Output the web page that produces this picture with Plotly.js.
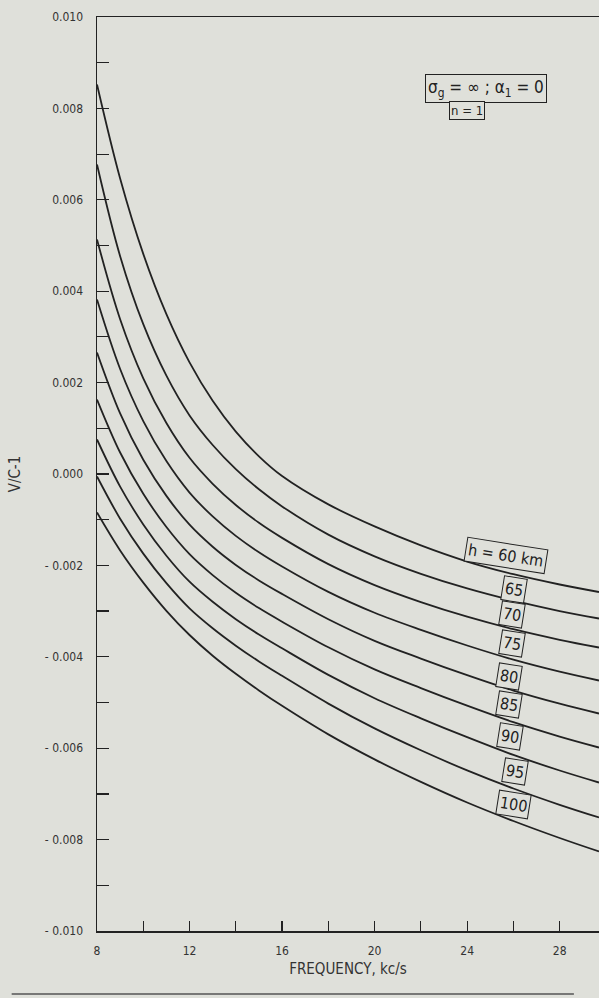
<!DOCTYPE html>
<html>
<head>
<meta charset="utf-8">
<script src="https://cdn.plot.ly/plotly-3.0.1.min.js"></script>
<style>
html,body{margin:0;padding:0;background:#dfe0da;}
#chart{width:599px;height:998px;}
</style>
</head>
<body>
<div id="chart"></div>
<script>
// Frequency (kc/s) sample points
const freq = [8, 9, 10, 11, 12, 13, 14, 15, 16, 18, 20, 22, 24, 26, 28, 29.7];
// Height labels (km)
const heights = ['60', '65', '70', '75', '80', '85', '90', '95', '100'];
// V/C-1 values, one series per height
const h60  = [0.008523, 0.006466, 0.004816, 0.003499, 0.002444, 0.001602, 0.000928, 0.000387, -0.000044, -0.000665, -0.001147, -0.001562, -0.001915, -0.002193, -0.002418, -0.002582];
const h65  = [0.006772, 0.004766, 0.003278, 0.002151, 0.001282, 0.000635, 0.000107, -0.000335, -0.000709, -0.001326, -0.001801, -0.002184, -0.002505, -0.002772, -0.002998, -0.003162];
const h70  = [0.005131, 0.003387, 0.002094, 0.001116, 0.000354, -0.000214, -0.000678, -0.001068, -0.001398, -0.001972, -0.002431, -0.002803, -0.003123, -0.003396, -0.003628, -0.003797];
const h75  = [0.003818, 0.002298, 0.001158, 0.000282, -0.000407, -0.000928, -0.001354, -0.001713, -0.002024, -0.002580, -0.003037, -0.003411, -0.003753, -0.004063, -0.004326, -0.004519];
const h80  = [0.002659, 0.001326, 0.000311, -0.000479, -0.001109, -0.001591, -0.001989, -0.002328, -0.002624, -0.003177, -0.003650, -0.004039, -0.004403, -0.004740, -0.005026, -0.005241];
const h85  = [0.001630, 0.000470, -0.000433, -0.001160, -0.001753, -0.002212, -0.002600, -0.002934, -0.003232, -0.003792, -0.004276, -0.004685, -0.005070, -0.005431, -0.005746, -0.005985];
const h90  = [0.000755, -0.000276, -0.001103, -0.001788, -0.002357, -0.002797, -0.003177, -0.003512, -0.003814, -0.004396, -0.004906, -0.005346, -0.005759, -0.006147, -0.006488, -0.006751];
const h95  = [-0.000055, -0.000978, -0.001742, -0.002389, -0.002941, -0.003376, -0.003757, -0.004101, -0.004416, -0.005024, -0.005567, -0.006046, -0.006486, -0.006882, -0.007239, -0.007516];
const h100 = [-0.000842, -0.001672, -0.002376, -0.002993, -0.003523, -0.003976, -0.004372, -0.004735, -0.005072, -0.005698, -0.006245, -0.006737, -0.007188, -0.007593, -0.007965, -0.008260];
const series = [h60, h65, h70, h75, h80, h85, h90, h95, h100];

// Axis ticks
const xTickVals = [8, 12, 16, 20, 24, 28];
const xTickText = ['8', '12', '16', '20', '24', '28'];
const xMinorVals = [10, 14, 18, 22, 26];
const yTickVals = [0.010, 0.008, 0.006, 0.004, 0.002, 0.000, -0.002, -0.004, -0.006, -0.008, -0.010];
const yTickText = ['0.010', '0.008', '0.006', '0.004', '0.002', '0.000', '- 0.002', '- 0.004', '- 0.006', '- 0.008', '- 0.010'];

const ink = '#222222';
const bg = '#dfe0da';
const font = 'DejaVu Sans Condensed, DejaVu Sans, sans-serif';

const traces = series.map((ys, i) => ({
  x: freq,
  y: ys,
  type: 'scatter',
  mode: 'lines',
  name: heights[i],
  line: {color: ink, width: 1.8, shape: 'spline', smoothing: 1},
  hoverinfo: 'skip'
}));

const labelPos = [
  [25.69, -0.00178, 'h = 60 km'],
  [26.04, -0.00253, '65'],
  [25.95, -0.00307, '70'],
  [25.95, -0.00371, '75'],
  [25.82, -0.00443, '80'],
  [25.82, -0.00504, '85'],
  [25.87, -0.00574, '90'],
  [26.08, -0.00651, '95'],
  [26.00, -0.00723, '100']
];

const annotations = labelPos.map(p => ({
  x: p[0], y: p[1], xref: 'x', yref: 'y',
  xanchor: 'center', yanchor: 'middle',
  text: p[2], showarrow: false,
  font: {family: font, size: 16, color: ink},
  bgcolor: bg, bordercolor: ink, borderwidth: 1, borderpad: 2,
  textangle: 9
}));

const L = 97, R = 0, T = 17, B = 67, W = 599, H = 998;
const px = (x) => (x - L) / (W - L - R);
const py = (y) => 1 - (y - T) / (H - T - B);

annotations.push({
  x: px(486), y: py(88), xref: 'paper', yref: 'paper', showarrow: false,
  xanchor: 'center', yanchor: 'middle',
  text: 'σ<sub>g</sub> = ∞ ; α<sub>1</sub> = 0',
  font: {family: font, size: 17, color: ink},
  bgcolor: bg, bordercolor: ink, borderwidth: 1, borderpad: 2
});
annotations.push({
  x: px(467), y: py(110), xref: 'paper', yref: 'paper', showarrow: false,
  xanchor: 'center', yanchor: 'middle',
  text: 'n = 1',
  font: {family: font, size: 13, color: ink},
  bgcolor: bg, bordercolor: ink, borderwidth: 1, borderpad: 1
});

const layout = {
  width: W, height: H,
  margin: {l: L, r: R, t: T, b: B},
  paper_bgcolor: bg,
  plot_bgcolor: bg,
  showlegend: false,
  font: {family: font, color: ink},
  xaxis: {
    range: [8, 29.7],
    tickvals: xTickVals, ticktext: xTickText,
    ticks: 'inside', ticklen: 10, tickwidth: 1.2, tickcolor: ink,
    minor: {tickvals: xMinorVals, ticks: 'inside', ticklen: 10, tickwidth: 1.2, tickcolor: ink},
    showline: true, linecolor: ink, linewidth: 1.5, mirror: true,
    showgrid: false, zeroline: false,
    ticklabelstandoff: 8,
    tickfont: {family: font, size: 12, color: '#333'},
    title: {text: 'FREQUENCY, kc/s', font: {family: font, size: 15, color: '#333'}, standoff: 6}
  },
  yaxis: {
    range: [-0.010, 0.010],
    tickvals: yTickVals, ticktext: yTickText,
    ticks: 'inside', ticklen: 12, tickwidth: 1.2, tickcolor: ink,
    minor: {dtick: 0.001, ticks: 'inside', ticklen: 12, tickwidth: 1.2, tickcolor: ink},
    showline: true, linecolor: ink, linewidth: 1.5, mirror: false,
    showgrid: false, zeroline: false,
    ticklabelstandoff: 10,
    tickfont: {family: font, size: 12, color: '#333'},
    title: {text: 'V/C-1', font: {family: font, size: 15, color: '#333'}, standoff: 20}
  },
  annotations: annotations,
  shapes: [
    {type: 'line', xref: 'paper', yref: 'paper', x0: -0.17, x1: 0.95, y0: py(994), y1: py(994),
     line: {color: '#555', width: 1.5}}
  ]
};

Plotly.newPlot('chart', traces, layout, {staticPlot: true, displayModeBar: false});
</script>
</body>
</html>
